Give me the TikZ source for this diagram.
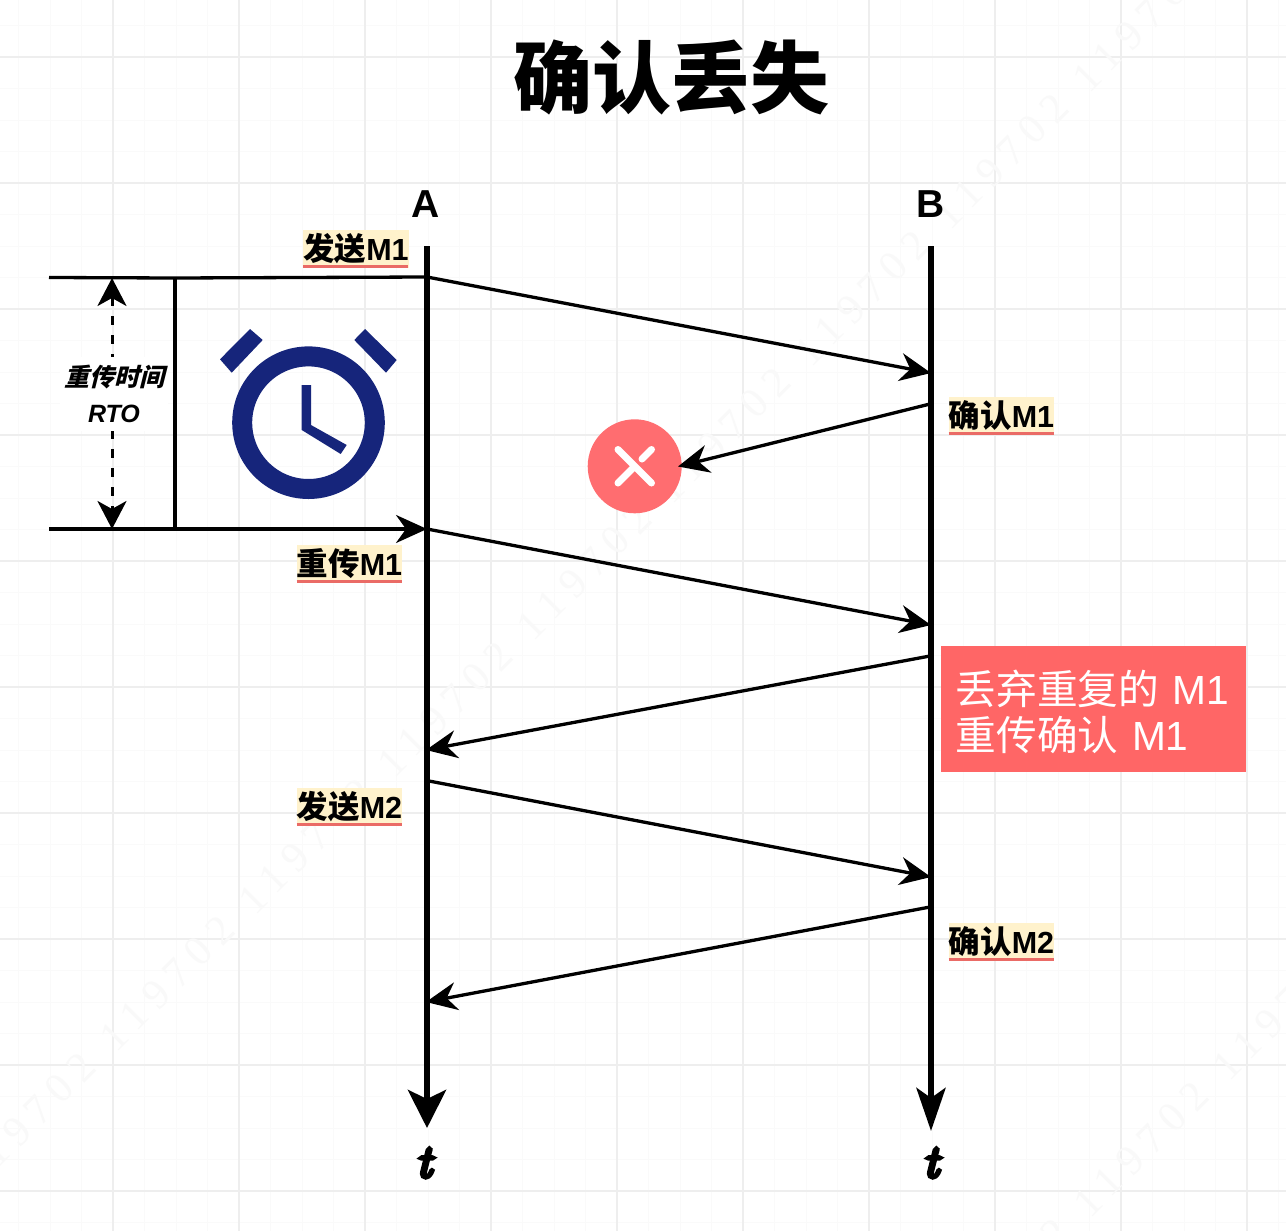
\documentclass[tikz,border=0pt]{standalone}
\usepackage{fontspec}
\usetikzlibrary{arrows.meta}
\newfontfamily\cjk{Noto Sans CJK SC}
\newfontfamily\cjkit[FakeSlant=0.25]{Noto Sans CJK SC}
\newfontfamily\lsans{Liberation Sans}
\newfontfamily\wmfont[LetterSpace=22]{Liberation Serif}
\newfontfamily\tfont[FakeBold=9]{Latin Modern Roman}
\definecolor{minorgrid}{HTML}{FAFAFA}
\definecolor{majorgrid}{HTML}{EEEEEE}
\definecolor{wmgrey}{HTML}{F9F9F9}
\definecolor{labelbg}{HTML}{FFF2CC}
\definecolor{labelline}{HTML}{EA6B66}
\definecolor{lostred}{HTML}{FF6D70}
\definecolor{boxred}{HTML}{FF6666}
\definecolor{clockblue}{HTML}{16257B}
\newcommand{\labtext}[2]{\raisebox{2.5pt}{{\cjk\fontsize{31.5}{32}\selectfont\bfseries #1}{\lsans\fontsize{30.5}{32}\selectfont #2}}}
\tikzset{
  msg/.style={line width=3.3pt,-{Stealth[length=31pt,width=28pt,inset=10pt]}},
  plain/.style={line width=3.3pt},
  axisA/.style={line width=6pt,-{Stealth[length=38pt,width=38pt,inset=9pt]}},
  axisB/.style={line width=6pt,-{Stealth[length=43pt,width=29pt,inset=10pt]}},
  rto/.style={line width=3pt,dash pattern=on 8.5pt off 10.5pt,
    {Stealth[length=28pt,width=29pt,inset=8pt]}-{Stealth[length=28pt,width=29pt,inset=8pt]}},
  lab/.style={fill=labelbg,inner sep=0pt,minimum width=105pt,minimum height=38pt,
    font=\fontsize{31}{31}\selectfont\bfseries},
  under/.style={labelline,line width=3pt},
  wm/.style={wmgrey,rotate=45,font=\wmfont\fontsize{42}{42}\selectfont},
  heading/.style={font=\cjk\fontsize{79}{79}\selectfont\bfseries},
  axlab/.style={font=\lsans\fontsize{39}{39}\selectfont\bfseries},
  tlab/.style={font=\tfont\fontsize{46}{46}\selectfont\itshape},
}
\begin{document}
\begin{tikzpicture}[x=1pt,y=-1pt]
\useasboundingbox (0,0) rectangle (1286,1231);
\fill[white] (0,0) rectangle (1286,1231);
\begin{scope}
\clip (0,0) rectangle (1286,1231);
% grid
\foreach \k in {0,...,40}{
  \pgfmathsetmacro\xx{18.5+31.5*\k}
  \draw[minorgrid,line width=1pt] (\xx,0) -- (\xx,1231);
  \pgfmathsetmacro\yy{25.5+31.5*\k}
  \draw[minorgrid,line width=1pt] (0,\yy) -- (1286,\yy);
}
\foreach \k in {0,...,9}{
  \pgfmathsetmacro\xx{113+126*\k}
  \draw[majorgrid,line width=1.2pt] (\xx,0) -- (\xx,1231);
  \pgfmathsetmacro\yy{57+126*\k}
  \draw[majorgrid,line width=1.2pt] (0,\yy) -- (1286,\yy);
}
% watermark
\foreach \c/\d in {-1/1,0/2,1/3,2/4,3/5,4/6,5/7,6/8,7/9}{
  \pgfmathsetmacro\xx{167+139*\c}
  \pgfmathsetmacro\yy{983-137*\c}
  \node[wm] (wa\d) at (\xx,\yy) {119702};
}
\foreach \c/\d in {0/0,1/1,2/2}{
  \pgfmathsetmacro\xx{1002+139*\c}
  \pgfmathsetmacro\yy{1286-137*\c}
  \node[wm] (wb\d) at (\xx,\yy) {119702};
}
\end{scope}

% title and axis labels
\node[heading] (title) at (671,77) {确认丢失};
\node[axlab] (labA) at (426,204) {A};
\node[axlab] (labB) at (931,204) {B};
\node[tlab] (tA) at (424,1163) {t};
\node[tlab] (tB) at (931,1163) {t};

% named points
\coordinate (Atop) at (427,246);
\coordinate (Abot) at (427,1128);
\coordinate (Btop) at (931,246);
\coordinate (Bbot) at (931,1131);
\coordinate (a1) at (427,277);
\coordinate (a2) at (427,529);
\coordinate (a3) at (426,750);
\coordinate (a4) at (429,781);
\coordinate (a5) at (426,1002);
\coordinate (b1) at (931,373);
\coordinate (b2) at (930,404);
\coordinate (b3) at (931,625);
\coordinate (b4) at (930,656);
\coordinate (b5) at (931,877);
\coordinate (b6) at (930,907);
\coordinate (ltop) at (49,277.5);
\coordinate (lbot) at (49,529);
\coordinate (vtop) at (175,278);
\coordinate (vbot) at (175,529);
\coordinate (rtop) at (112,278);
\coordinate (rbot) at (112,529);
\coordinate (losttip) at (678,466.5);

% RTO bracket
\draw[plain] (ltop) -- (vtop) -- (a1);
\draw[plain] (vtop) -- (vbot);
\draw[msg] (lbot) -- (a2);
\draw[rto] (rtop) -- (rbot);
\node[fill=white,inner sep=0pt,minimum width=108pt,minimum height=74pt,align=center,
  font=\fontsize{25}{37}\selectfont\bfseries] (rtotext) at (114,394)
  {{\cjkit 重传时间}\\[-1.5pt]{\lsans\itshape RTO}};

% clock icon
\draw[clockblue,line width=20pt] (308.5,422.7) circle (66.3);
\fill[clockblue] (301.7,385) -- (311,385) -- (311,425) -- (346.7,445) -- (340.7,454) -- (301.7,430) -- cycle;
\fill[clockblue] (250,329) -- (262.7,340) -- (231.7,372.7) -- (220,359.3) -- cycle;
\fill[clockblue] (365,329) -- (396.7,360) -- (386,372.7) -- (354.3,340) -- cycle;

% axes
\draw[axisA] (Atop) -- (Abot);
\draw[axisB] (Btop) -- (Bbot);

% lost mark
\node[circle,fill=lostred,inner sep=0pt,minimum size=94pt] (lost) at (634.7,466.3) {};
\draw[white,line width=7pt,line cap=round] (618,449.5) -- (651.5,483);
\draw[white,line width=7pt,line cap=round] (651.5,449.5) -- (642,459);
\draw[white,line width=7pt,line cap=round] (633,468) -- (618,483);

% messages
\draw[msg] (a1) -- (b1);
\draw[msg] (b2) -- (losttip);
\draw[msg] (a2) -- (b3);
\draw[msg] (b4) -- (a3);
\draw[msg] (a4) -- (b5);
\draw[msg] (b6) -- (a5);

% labels
\node[lab] (l1) at (356,249) {\labtext{发送}{M1}};
\draw[under] (l1.south west) ++(0,-1.5) -- ++(105,0);
\node[lab] (l2) at (349.5,564) {\labtext{重传}{M1}};
\draw[under] (l2.south west) ++(0,-1.5) -- ++(105,0);
\node[lab] (l3) at (1001.5,416) {\labtext{确认}{M1}};
\draw[under] (l3.south west) ++(0,-1.5) -- ++(105,0);
\node[lab] (l4) at (349.5,806.5) {\labtext{发送}{M2}};
\draw[under] (l4.south west) ++(0,-1.5) -- ++(105,0);
\node[lab] (l5) at (1001.5,942) {\labtext{确认}{M2}};
\draw[under] (l5.south west) ++(0,-1.5) -- ++(105,0);

% note
\node[fill=boxred,inner sep=0pt,minimum width=305pt,minimum height=126pt] (note) at (1093.5,709) {};
\node[text=white,inner sep=0pt,anchor=west,text width=285pt,align=left,
  font=\fontsize{40.7}{46}\selectfont] (notetext) at (955.5,711.5)
  {{\cjk 丢弃重复的}{\lsans{} M1}\\{\cjk 重传确认}{\lsans{} M1}};
\end{tikzpicture}
\end{document}
